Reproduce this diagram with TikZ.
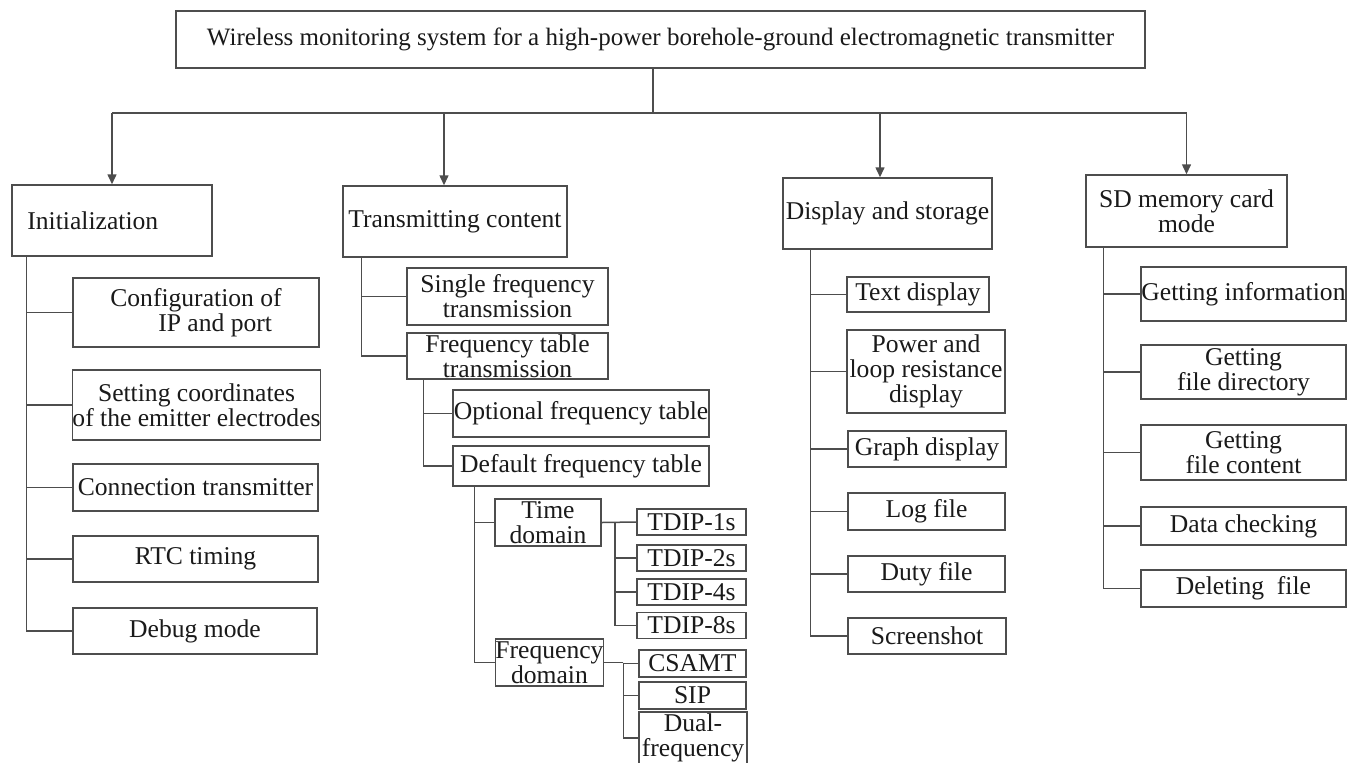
\documentclass[tikz,border=0pt]{standalone}
\usepackage{fontspec}
\setmainfont{Liberation Serif}
\usetikzlibrary{arrows.meta}

\definecolor{linea}{HTML}{4D4D4D}
\definecolor{scritta}{HTML}{1A1A1A}

\tikzset{
	casella/.style={draw=linea, line width=0.75pt, inner sep=0pt, align=center, text=scritta, font=\fontsize{12.8}{12.5}\selectfont},
	ramo/.style={draw=linea, line width=0.75pt},
}

\begin{document}
\begin{tikzpicture}[x=0.5pt,y=-0.5pt,>={Triangle[length=5pt,width=4.5pt]}]
		\clip (0,0) rectangle (1348,762);
		\fill[white] (0,0) rectangle (1348,762);

		% Titolo
		\node[casella, font=\fontsize{12.5}{12.5}\selectfont, minimum width=484.5pt, minimum height=28.5pt] (title) at (660.5,39.5) {Wireless monitoring system for a high-power borehole-ground electromagnetic transmitter};

		% Primo livello
		\node[casella, minimum width=100pt, minimum height=35.5pt] (init) at (112,220.5) {Initialization\hspace*{1.5em}};
		\node[casella, minimum width=112pt, minimum height=35.5pt] (trans) at (455,221.5) {Transmitting content};
		\node[casella, minimum width=104.5pt, minimum height=35.5pt] (disp) at (887.5,213.5) {Display and storage};
		\node[casella, minimum width=100.5pt, minimum height=36pt] (sd) at (1186.5,211) {SD memory card\\mode};

		% Inizializzazione
		\node[casella, minimum width=123pt, minimum height=34.5pt] (cfg) at (196,312.5) {Configuration of\\\hspace*{1.5em}IP and port};
		\node[casella, minimum width=123.5pt, minimum height=35pt] (coord) at (196.5,405) {Setting coordinates\\of the emitter electrodes};
		\node[casella, minimum width=122.5pt, minimum height=23.5pt] (conn) at (195.5,487.5) {Connection transmitter};
		\node[casella, minimum width=122.5pt, minimum height=23pt] (rtc) at (195.5,559) {RTC timing};
		\node[casella, minimum width=122pt, minimum height=23pt] (debug) at (195,631) {Debug mode};

		% Contenuto trasmesso
		\node[casella, minimum width=100.5pt, minimum height=28.5pt] (single) at (507.5,296.5) {Single frequency\\transmission};
		\node[casella, minimum width=100.5pt, minimum height=23pt] (ftab) at (507.5,356) {Frequency table\\transmission};
		\node[casella, minimum width=128pt, minimum height=23.5pt] (opt) at (581,413.5) {Optional frequency table};
		\node[casella, minimum width=128pt, minimum height=20pt] (dflt) at (581,466) {Default frequency table};
		\node[casella, minimum width=53pt, minimum height=23.5pt] (time) at (548,522.5) {Time\\domain};
		\node[casella, minimum width=53.5pt, minimum height=23.5pt] (fdom) at (549.5,662.5) {Frequency\\domain};
		\node[casella, minimum width=54.5pt, minimum height=13pt] (tdip1) at (691.5,522) {TDIP-1s};
		\node[casella, minimum width=54.5pt, minimum height=13pt] (tdip2) at (691.5,558) {TDIP-2s};
		\node[casella, minimum width=54.5pt, minimum height=13pt] (tdip4) at (691.5,592) {TDIP-4s};
		\node[casella, minimum width=54.5pt, minimum height=13pt] (tdip8) at (691.5,625.5) {TDIP-8s};
		\node[casella, minimum width=53.5pt, minimum height=13.5pt] (csamt) at (692.5,663.5) {CSAMT};
		\node[casella, minimum width=53.5pt, minimum height=13.5pt] (sip) at (692.5,695.5) {SIP};
		\node[casella, minimum width=54pt, minimum height=26pt] (dual) at (693,738) {Dual-\\frequency};

		% Visualizzazione e memoria
		\node[casella, minimum width=71pt, minimum height=17.5pt] (txt) at (918,294.5) {Text display};
		\node[casella, minimum width=79pt, minimum height=41.5pt] (pwr) at (926,371.5) {Power and\\loop resistance\\display};
		\node[casella, minimum width=79pt, minimum height=18pt] (graph) at (927,449) {Graph display};
		\node[casella, minimum width=78.5pt, minimum height=18.5pt] (log) at (926.5,511.5) {Log file};
		\node[casella, minimum width=78.5pt, minimum height=18pt] (duty) at (926.5,574) {Duty file};
		\node[casella, minimum width=79pt, minimum height=18pt] (shot) at (927,636) {Screenshot};

		% Scheda SD
		\node[casella, minimum width=102.5pt, minimum height=27pt] (info) at (1243.5,294) {Getting information};
		\node[casella, minimum width=102.5pt, minimum height=27pt] (dir) at (1243.5,372) {Getting\\file directory};
		\node[casella, minimum width=102.5pt, minimum height=27.5pt] (cont) at (1243.5,452.5) {Getting\\file content};
		\node[casella, minimum width=102.5pt, minimum height=19pt] (chk) at (1243.5,526) {Data checking};
		\node[casella, minimum width=102.5pt, minimum height=18.5pt] (del) at (1243.5,588.5) {Deleting~ file};

		% Collegamenti dal titolo
		\coordinate (bus) at (653,113);
		\draw[ramo] (title.south -| bus) -- (bus);
		\draw[ramo] (init.north |- bus) -- (sd.north |- bus);
		\draw[ramo,->] (init.north |- bus) -- (init.north);
		\draw[ramo,->] ([xshift=-5.5pt]trans.north |- bus) -- ([xshift=-5.5pt]trans.north);
		\draw[ramo,->] ([xshift=-3.75pt]disp.north |- bus) -- ([xshift=-3.75pt]disp.north);
		\draw[ramo,->] (sd.north |- bus) -- (sd.north);

		% Rami
		\coordinate (tI) at ([xshift=7.5pt]init.south west);
		\draw[ramo] (tI) |- (debug.west);
		\foreach \n in {cfg,coord,conn,rtc}
			\draw[ramo] (tI |- \n.west) -- (\n.west);

		\coordinate (tT) at ([xshift=9.5pt]trans.south west);
		\draw[ramo] (tT) |- (ftab.west);
		\draw[ramo] (tT |- single.west) -- (single.west);

		\coordinate (tF) at ([xshift=8.5pt]ftab.south west);
		\draw[ramo] (tF) |- (dflt.west);
		\draw[ramo] (tF |- opt.west) -- (opt.west);

		\coordinate (tD) at ([xshift=11pt]dflt.south west);
		\draw[ramo] (tD) |- (fdom.west);
		\draw[ramo] (tD |- time.west) -- (time.west);

		\coordinate (tTD) at ([xshift=6.5pt]time.east);
		\draw[ramo] (time.east) -- (tdip1.west);
		\draw[ramo] (tTD) |- (tdip8.west);
		\foreach \n in {tdip2,tdip4}
			\draw[ramo] (tTD |- \n.west) -- (\n.west);

		\coordinate (tFD) at ([xshift=9.5pt]fdom.east);
		\draw[ramo] (fdom.east) -- (tFD);
		\draw[ramo] (tFD) |- (dual.west);
		\foreach \n in {csamt,sip}
			\draw[ramo] (tFD |- \n.west) -- (\n.west);

		\coordinate (tS) at ([xshift=14pt]disp.south west);
		\draw[ramo] (tS) |- (shot.west);
		\foreach \n in {txt,pwr,graph,log,duty}
			\draw[ramo] (tS |- \n.west) -- (\n.west);

		\coordinate (tM) at ([xshift=9pt]sd.south west);
		\draw[ramo] (tM) |- (del.west);
		\foreach \n in {info,dir,cont,chk}
			\draw[ramo] (tM |- \n.west) -- (\n.west);
	\end{tikzpicture}
\end{document}
